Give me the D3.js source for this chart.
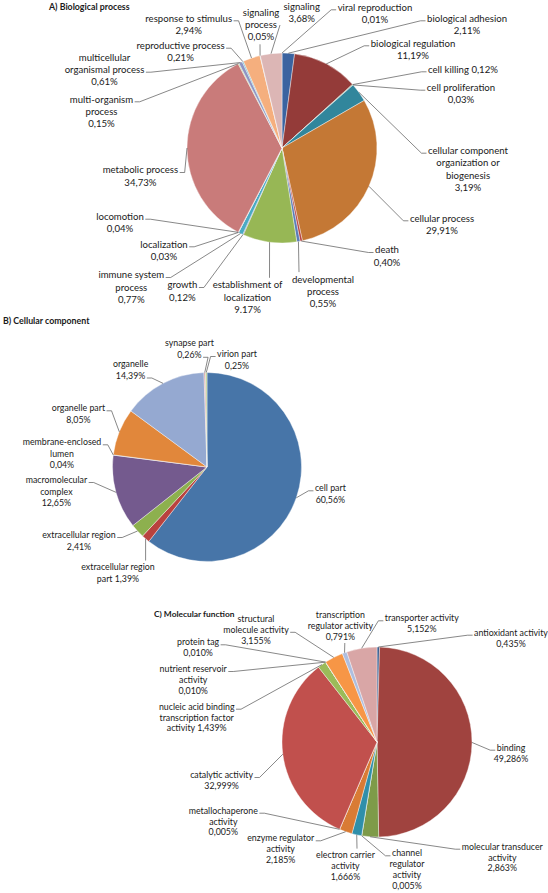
<!DOCTYPE html>
<html><head><meta charset="utf-8">
<script src="https://cdn.jsdelivr.net/npm/d3@7/dist/d3.min.js"></script>
<style>
body{margin:0;background:#fff}
svg text{font-family:Lato,"Open Sans",sans-serif;fill:#1a1a1a}
</style>
</head><body>
<svg id="chart" width="548" height="893"></svg>
<script>
// ---------- DATA ----------
const bpCategories = ["viral reproduction","biological adhesion","biological regulation","cell killing","cell proliferation","cellular component organization or biogenesis","cellular process","death","developmental process","establishment of localization","growth","immune system process","localization","locomotion","metabolic process","multi-organism process","multicellular organismal process","reproductive process","response to stimulus","signaling process","signaling"];
const bpValues = [0.01,2.11,11.19,0.12,0.03,3.19,29.91,0.40,0.55,9.17,0.12,0.77,0.03,0.04,34.73,0.15,0.61,0.21,2.94,0.05,3.68];

const ccCategories = ["cell part","extracellular region part","extracellular region","macromolecular complex","membrane-enclosed lumen","organelle part","organelle","synapse part","virion part"];
const ccValues = [60.56,1.39,2.41,12.65,0.04,8.05,14.39,0.26,0.25];

const mfCategories = ["antioxidant activity","binding","molecular transducer activity","channel regulator activity","electron carrier activity","enzyme regulator activity","metallochaperone activity","catalytic activity","nucleic acid binding transcription factor activity","nutrient reservoir activity","protein tag","structural molecule activity","transcription regulator activity","transporter activity"];
const mfValues = [0.435,49.286,2.863,0.005,1.666,2.185,0.005,32.999,1.439,0.010,0.010,3.155,0.791,5.152];

// ---------- STYLES ----------
const bpColors = ["#4F81BD","#3B63A0","#943B39","#6E8B3D","#5B4A7C","#31869C","#C47835","#B8433F","#5A7CB8","#97B755","#7E65A0","#4AAAC4","#F08A3C","#7390C4","#C97B7A","#AFC97A","#8E95C4","#6FBDD1","#F5AF7E","#A9BCE0","#DCB6B5"];
const ccColors = ["#4775A8","#B9423E","#8DB04E","#745A8E","#3FA2BC","#E1873B","#95A9D1","#D9A1A0","#B7CC8C"];
const mfColors = ["#3C5F91","#A0433F","#7E9B49","#65508A","#2F8FAA","#D97B34","#8AA4D1","#C1504D","#9BBB59","#8064A2","#4BACC6","#F79646","#AEBEDF","#D9A6A6"];

// ---------- LAYOUT ----------
const bpLayout = [
 {lines:["viral reproduction","{p}"],x:375,y:7.3,side:"l"},
 {lines:["biological adhesion","{p}"],x:467,y:18.3,side:"l"},
 {lines:["biological regulation","{p}"],x:413,y:43.3,side:"l"},
 {lines:["cell killing {p}"],x:463,y:69.3,side:"l"},
 {lines:["cell proliferation","{p}"],x:461,y:87.7,side:"l"},
 {lines:["cellular component","organization or","biogenesis","{p}"],x:468,y:150.7,side:"l"},
 {lines:["cellular process","{p}"],x:442,y:218.3,side:"l"},
 {lines:["death","{p}"],x:387,y:250,side:"l"},
 {lines:["developmental","process","{p}"],x:323,y:279.3,side:"t",ax:299},
 {lines:["establishment of","localization","{p.}"],x:247.5,y:285,side:"t",ax:269.5},
 {lines:["growth","{p}"],x:182.4,y:285,side:"r"},
 {lines:["immune system","process","{p}"],x:131.3,y:275,side:"r"},
 {lines:["localization","{p}"],x:164,y:244.3,side:"r"},
 {lines:["locomotion","{p}"],x:120,y:216.7,side:"r"},
 {lines:["metabolic process","{p}"],x:140.4,y:170,side:"r"},
 {lines:["multi-organism","process","{p}"],x:101.5,y:99.3,side:"r"},
 {lines:["multicellular","organismal process","{p}"],x:104.5,y:57.3,side:"r",li:1},
 {lines:["reproductive process","{p}"],x:180.6,y:45.7,side:"r"},
 {lines:["response to stimulus","{p}"],x:188.7,y:18.3,side:"r"},
 {lines:["signaling","process","{p}"],x:261,y:12.3,side:"b",ax:260},
 {lines:["signaling","{p}"],x:301.7,y:6.7,side:"pt",ax:280,ay:25}
];
const ccLayout = [
 {lines:["cell part","{p}"],x:330.4,y:488.3,side:"l"},
 {lines:["extracellular region","part {p}"],x:118,y:567.3,side:"t",ax:145.6},
 {lines:["extracellular region","{p}"],x:79,y:535,side:"r"},
 {lines:["macromolecular","complex","{p}"],x:56.4,y:480,side:"r"},
 {lines:["membrane-enclosed","lumen","{p}"],x:62,y:442.3,side:"r"},
 {lines:["organelle part","{p}"],x:78.4,y:408.3,side:"r"},
 {lines:["organelle","{p}"],x:130.6,y:364,side:"r",li:1},
 {lines:["synapse part","{p}"],x:189.4,y:343.3,side:"r",li:1},
 {lines:["virion part","{p}"],x:237,y:354,side:"l"}
];
const mfLayout = [
 {lines:["antioxidant activity","{p}"],x:511,y:632.7,side:"l"},
 {lines:["binding","{p}"],x:511,y:747.7,side:"l"},
 {lines:["molecular transducer","activity","{p}"],x:502.3,y:846.7,side:"l"},
 {lines:["channel","regulator","activity","{p}"],x:407,y:853.3,side:"l"},
 {lines:["electron carrier","activity","{p}"],x:345.5,y:855,side:"t",ax:357},
 {lines:["enzyme regulator","activity","{p}"],x:280.7,y:838.3,side:"r"},
 {lines:["metallochaperone","activity","{p}"],x:223.3,y:810.7,side:"r"},
 {lines:["catalytic activity","{p}"],x:221.6,y:775,side:"r"},
 {lines:["nucleic acid binding","transcription factor","activity {p}"],x:196.7,y:706.7,side:"r"},
 {lines:["nutrient reservoir","activity","{p}"],x:193.2,y:669,side:"r"},
 {lines:["protein tag","{p}"],x:198.1,y:642.3,side:"r"},
 {lines:["structural","molecule activity","{p}"],x:256,y:619,side:"r",li:1},
 {lines:["transcription","regulator activity","{p}"],x:340.4,y:615,side:"b",ax:344.8},
 {lines:["transporter activity","{p}"],x:421.8,y:618.3,side:"l"}
];

const panels = [
 {title:"A) Biological process",tx:49,ty:7,tfs:8.8,cats:bpCategories,vals:bpValues,colors:bpColors,layout:bpLayout,cx:282,cy:148,r:95,fs:9.6,lh:12.4,dec:2},
 {title:"B) Cellular component",tx:3,ty:320.7,tfs:8.8,cats:ccCategories,vals:ccValues,colors:ccColors,layout:ccLayout,cx:207,cy:467,r:94.5,fs:8.8,lh:11.5,dec:2},
 {title:"C) Molecular function",tx:154,ty:614,tfs:8.4,cats:mfCategories,vals:mfValues,colors:mfColors,layout:mfLayout,cx:377,cy:742,r:95,fs:8.8,lh:10.8,dec:3}
];

const svg = d3.select("#chart");

panels.forEach(P=>{
  const g = svg.append("g");
  g.append("text").attr("x",P.tx).attr("y",P.ty).attr("dy","0.35em")
    .style("font-weight","bold").style("font-size",P.tfs+"px").text(P.title);

  const pie = d3.pie().sort(null).value(d=>d)(P.vals);
  const arc = d3.arc().innerRadius(0).outerRadius(P.r);
  const pg = g.append("g").attr("transform",`translate(${P.cx},${P.cy})`);
  pg.selectAll("path").data(pie).join("path")
    .attr("d",arc).attr("fill",(d,i)=>P.colors[i])
    .attr("stroke","#fff").attr("stroke-width",0.4).attr("stroke-linejoin","round");

  const fmt = (v,period)=>{const s=d3.format("."+P.dec+"f")(v);return (period?s:s.replace(".",","))+"%";};

  P.layout.forEach((L,i)=>{
    const d = pie[i];
    const a = (d.startAngle+d.endAngle)/2;
    const px = P.cx + P.r*Math.sin(a), py = P.cy - P.r*Math.cos(a);
    const t = g.append("text").style("font-size",P.fs+"px").attr("text-anchor","middle");
    const spans = L.lines.map((ln,k)=>{
      const txt = ln.replace("{p.}",fmt(P.vals[i],true)).replace("{p}",fmt(P.vals[i],false));
      return t.append("tspan").attr("x",L.x).attr("y",L.y+k*P.lh).attr("dy","0.35em").text(txt);
    });
    const li = L.li||0;
    const w = spans[li].node().getComputedTextLength();
    const ly = L.y+li*P.lh+2.5;
    let pts;
    if(L.side==="l"){ const ax=L.x-w/2-1.5; pts=[[px,py],[ax-5,ly],[ax,ly]]; }
    else if(L.side==="r"){ const ax=L.x+w/2+1.5; pts=[[px,py],[ax+5,ly],[ax,ly]]; }
    else if(L.side==="t"){ pts=[[px,py],[L.ax,L.y-P.lh/2-1]]; }
    else if(L.side==="b"){ pts=[[px,py],[L.ax,L.y+(L.lines.length-1)*P.lh+P.lh/2+1]]; }
    else { pts=[[px,py],[L.ax,L.ay]]; }
    g.append("path").attr("d",d3.line()(pts)).attr("fill","none")
      .attr("stroke","#555").attr("stroke-width",0.7);
  });
});
</script>
</body></html>
